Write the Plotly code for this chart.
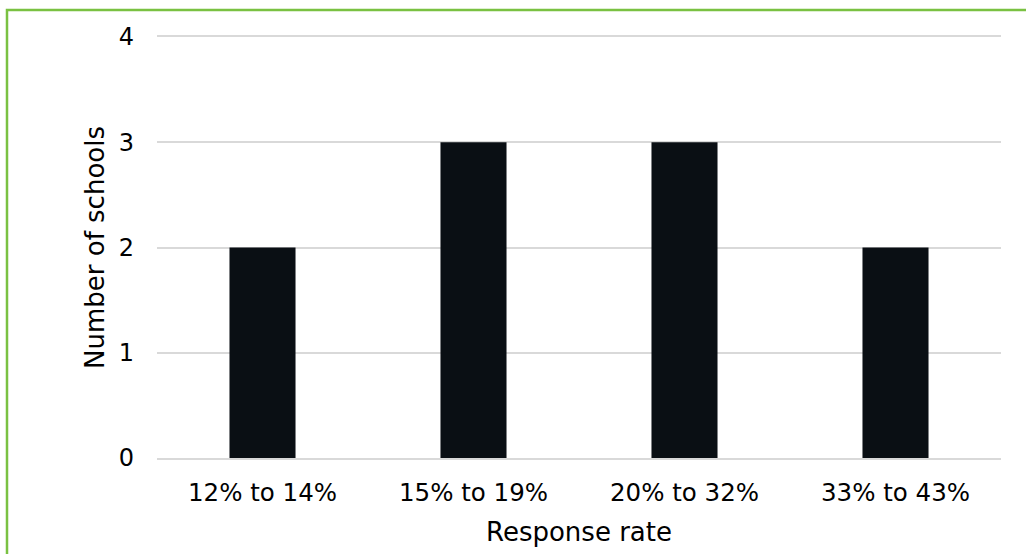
import plotly.graph_objects as go

categories = ["12% to 14%", "15% to 19%", "20% to 32%", "33% to 43%"]
schools = [2, 3, 3, 2]
y_ticks = [0, 1, 2, 3, 4]

W, H = 1026, 554
ML, MR, MT, MB = 157, 25, 37, 96
pw = W - ML - MR
ph = H - MT - MB

fig = go.Figure(
    go.Bar(
        x=categories,
        y=schools,
        marker=dict(color="#0a0f14", line=dict(width=0)),
        hoverinfo="x+y",
    )
)

# green frame (left and top edges visible, the rest runs off the page)
fx0 = (7 - ML) / pw
fy1 = (H - MB - 10) / ph
fig.add_shape(
    type="rect", xref="paper", yref="paper",
    x0=fx0, x1=1.2, y0=-0.5, y1=fy1,
    line=dict(color="#7ac142", width=2.5), fillcolor="rgba(0,0,0,0)",
    layer="above",
)

fig.update_layout(
    width=W, height=H,
    margin=dict(l=ML, r=MR, t=MT, b=MB),
    paper_bgcolor="white", plot_bgcolor="white",
    bargap=0.687,
    showlegend=False,
    font=dict(family="DejaVu Sans, Verdana, sans-serif", color="#000000"),
    xaxis=dict(
        title=dict(text="Response rate", font=dict(size=26), standoff=17),
        tickfont=dict(size=24.5),
        showgrid=False, showline=True, linecolor="#d9d9d9", linewidth=1.5,
        mirror=True,
        ticks="", ticklen=0, ticklabelstandoff=12,
    ),
    yaxis=dict(
        title=dict(text="Number of schools", font=dict(size=26), standoff=6),
        tickfont=dict(size=24),
        range=[0, 4], tickvals=y_ticks,
        showgrid=True, gridcolor="#d9d9d9", gridwidth=1.5,
        zeroline=False, showline=False, ticks="", ticklen=0,
        ticklabelstandoff=22,
    ),
)

fig.write_html("out.html")
